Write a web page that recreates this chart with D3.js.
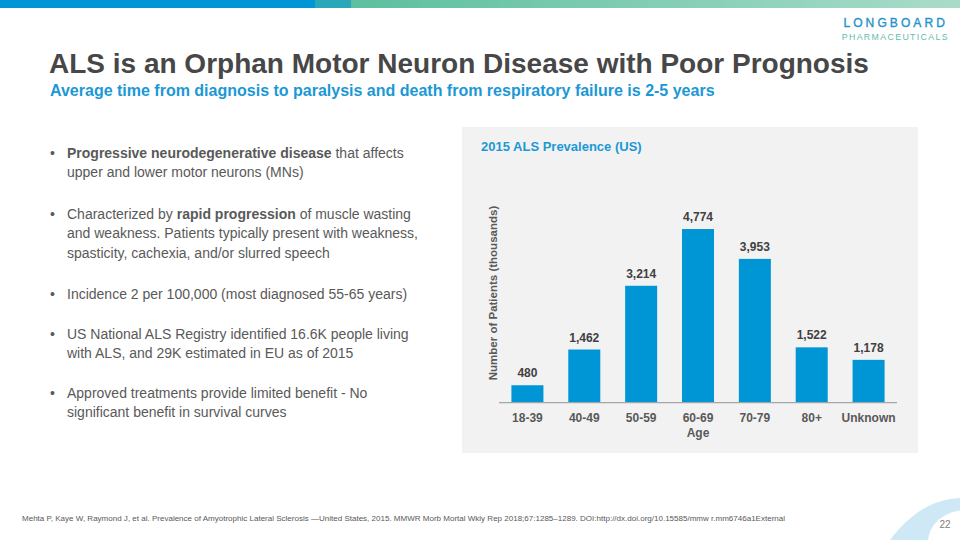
<!DOCTYPE html>
<html>
<head>
<meta charset="utf-8">
<script src="https://cdn.jsdelivr.net/npm/d3@7"></script>
<style>
  html, body { margin: 0; padding: 0; background: #ffffff; }
  svg { display: block; font-family: "Liberation Sans", Arial, sans-serif; }
</style>
</head>
<body>
<svg id="slide" width="960" height="540"></svg>
<script>
// ---- data ----
const categories = ["18-39", "40-49", "50-59", "60-69", "70-79", "80+", "Unknown"];
const patients = [480, 1462, 3214, 4774, 3953, 1522, 1178];
const chartTitle = "2015 ALS Prevalence (US)";
const xAxisTitle = "Age";
const yAxisTitle = "Number of Patients (thousands)";

const slideTitle = "ALS is an Orphan Motor Neuron Disease with Poor Prognosis";
const slideSubtitle = "Average time from diagnosis to paralysis and death from respiratory failure is 2-5 years";
const bullets = [
  [[["Progressive neurodegenerative disease", true], [" that affects", false]],
   [["upper and lower motor neurons (MNs)", false]]],
  [[["Characterized by ", false], ["rapid progression", true], [" of muscle wasting", false]],
   [["and weakness. Patients typically present with weakness,", false]],
   [["spasticity, cachexia, and/or slurred speech", false]]],
  [[["Incidence 2 per 100,000 (most diagnosed 55-65 years)", false]]],
  [[["US National ALS Registry identified 16.6K people living", false]],
   [["with ALS, and 29K estimated in EU as of 2015", false]]],
  [[["Approved treatments provide limited benefit - No", false]],
   [["significant benefit in survival curves", false]]]
];
const footnote = "Mehta P, Kaye W, Raymond J, et al. Prevalence of Amyotrophic Lateral Sclerosis \u2014United States, 2015. MMWR Morb Mortal Wkly Rep 2018;67:1285\u20131289. DOI:http://dx.doi.org/10.15585/mmw r.mm6746a1External";
const pageNumber = "22";

// ---- drawing ----
const svg = d3.select("#slide");
const defs = svg.append("defs");
const grad = defs.append("linearGradient").attr("id", "topGrad").attr("x1", "0").attr("x2", "1");
grad.append("stop").attr("offset", "0").attr("stop-color", "#5cbf9f");
grad.append("stop").attr("offset", "1").attr("stop-color", "#a9dcc9");

// top bar
svg.append("rect").attr("x", 0).attr("y", 0).attr("width", 315).attr("height", 8).attr("fill", "#0096d6");
svg.append("rect").attr("x", 315).attr("y", 0).attr("width", 36).attr("height", 8).attr("fill", "#2aa7b8");
svg.append("rect").attr("x", 351).attr("y", 0).attr("width", 609).attr("height", 8).attr("fill", "url(#topGrad)");

// logo
svg.append("text").attr("x", 948).attr("y", 26.5).attr("text-anchor", "end")
  .attr("font-size", 12).attr("letter-spacing", "3.1px").attr("fill", "#2393c9")
  .attr("stroke", "#2393c9").attr("stroke-width", 0.35)
  .text("LONGBOARD");
svg.append("text").attr("x", 949).attr("y", 39.5).attr("text-anchor", "end")
  .attr("font-size", 8.8).attr("letter-spacing", "1.35px").attr("fill", "#5fbcb0")
  .text("PHARMACEUTICALS");

// titles
svg.append("text").attr("x", 49).attr("y", 73).attr("font-size", 28).attr("font-weight", "bold")
  .attr("fill", "#474747").text(slideTitle);
svg.append("text").attr("x", 50).attr("y", 96).attr("font-size", 16).attr("font-weight", "bold")
  .attr("fill", "#1b98d5").text(slideSubtitle);

// bullets
const lineH = 19.3;
const bulletGaps = [0, 61, 141, 181, 240];
const startY = 158;
bullets.forEach((b, i) => {
  const y0 = startY + bulletGaps[i];
  svg.append("text").attr("x", 50).attr("y", y0).attr("font-size", 14).attr("fill", "#595959").text("\u2022");
  b.forEach((line, j) => {
    const t = svg.append("text").attr("x", 67).attr("y", y0 + j * lineH)
      .attr("font-size", 14).attr("fill", "#595959");
    line.forEach(([s, bold]) => {
      t.append("tspan").attr("font-weight", bold ? "bold" : "normal").text(s);
    });
  });
});

// chart panel
svg.append("rect").attr("x", 462).attr("y", 127).attr("width", 456).attr("height", 326).attr("fill", "#f2f2f2");
svg.append("text").attr("x", 481).attr("y", 151).attr("font-size", 13).attr("font-weight", "bold")
  .attr("fill", "#1b98d5").text(chartTitle);

const x = d3.scaleBand().domain(categories).range([499, 897]).paddingInner(0.437).paddingOuter(0.2185);
const y = d3.scaleLinear().domain([0, 5000]).range([402.7, 220.8]);

const g = svg.append("g");
g.selectAll("rect.bar").data(categories).join("rect").attr("class", "bar")
  .attr("x", d => x(d)).attr("width", x.bandwidth())
  .attr("y", (d, i) => y(patients[i])).attr("height", (d, i) => y(0) - y(patients[i]))
  .attr("fill", "#0096d6");

const fmt = d3.format(",");
g.selectAll("text.val").data(categories).join("text").attr("class", "val")
  .attr("x", d => x(d) + x.bandwidth() / 2).attr("y", (d, i) => y(patients[i]) - 8)
  .attr("text-anchor", "middle").attr("font-size", 12).attr("font-weight", "bold").attr("fill", "#404040")
  .text((d, i) => fmt(patients[i]));

const xAxis = d3.axisBottom(x).tickSize(0).tickPadding(11);
const ax = svg.append("g").attr("transform", `translate(0,${y(0)})`).call(xAxis);
ax.select(".domain").attr("stroke", "#a6a6a6").attr("stroke-width", 1.2).attr("d", "M499,0H897");
ax.selectAll("text").attr("font-family", "Liberation Sans, Arial, sans-serif")
  .attr("font-size", 12).attr("font-weight", "bold").attr("fill", "#595959");

svg.append("text").attr("x", 698).attr("y", 437).attr("text-anchor", "middle")
  .attr("font-size", 12).attr("font-weight", "bold").attr("fill", "#595959").text(xAxisTitle);
svg.append("text").attr("transform", `translate(497,293) rotate(-90)`).attr("text-anchor", "middle")
  .attr("font-size", 11.5).attr("font-weight", "bold").attr("fill", "#595959").text(yAxisTitle);

// footnote
svg.append("text").attr("x", 22).attr("y", 521).attr("font-size", 7).attr("fill", "#595959")
  .attr("textLength", 763).attr("lengthAdjust", "spacingAndGlyphs").text(footnote);

// wave decoration
svg.append("path").attr("d", "M890,540 C905,520 925,503 950,499 L960,498 L960,540 Z").attr("fill", "#cfe8f6");
svg.append("ellipse").attr("cx", 966).attr("cy", 542).attr("rx", 38).attr("ry", 32).attr("fill", "#ffffff");
svg.append("text").attr("x", 945).attr("y", 528).attr("font-size", 10).attr("text-anchor", "middle")
  .attr("fill", "#808080").text(pageNumber);
</script>
</body>
</html>
